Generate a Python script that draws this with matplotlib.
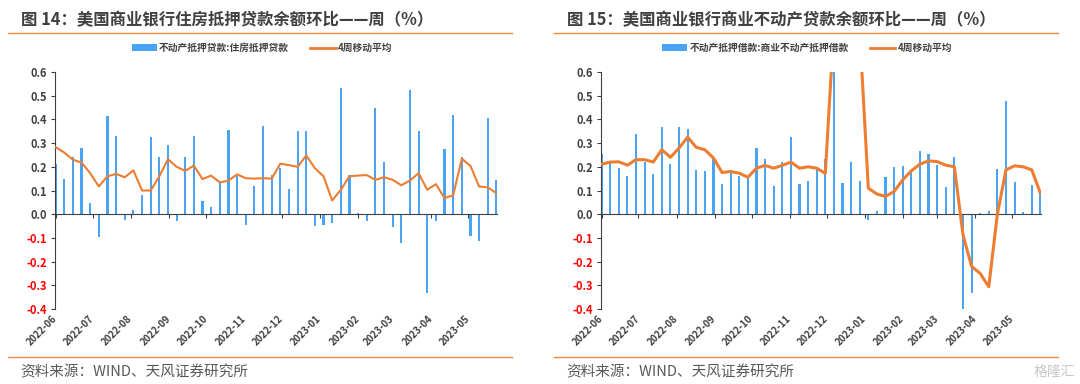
import numpy as np
import pandas as pd
import matplotlib
matplotlib.use('Agg')
import matplotlib.pyplot as plt
from matplotlib.patches import Patch
from matplotlib.lines import Line2D

plt.rcParams['font.family'] = ['Noto Sans CJK SC', 'DejaVu Sans']

# 週次データ（2022-06-01 から 52 週）
dates = pd.date_range('2022-06-01', periods=52, freq='7D')
month_ticks = pd.date_range('2022-06-01', '2023-05-01', freq='MS')
month_labels = [d.strftime('%Y-%m') for d in month_ticks]

# 図14: 住房抵押贷款 環比 (%)
resid_vals = [0.21, 0.15, 0.24, 0.28, 0.046, -0.097, 0.415, 0.33, -0.024, 0.018,
              0.08, 0.324, 0.242, 0.29, -0.03, 0.24, 0.33, 0.055, 0.032, 0.13,
              0.357, 0.16, -0.046, 0.12, 0.372, 0.165, 0.197, 0.107, 0.35, 0.352,
              -0.048, -0.045, -0.037, 0.532, 0.166, 0.005, -0.03, 0.45, 0.22, -0.055,
              -0.122, 0.522, 0.35, -0.334, -0.028, 0.275, 0.417, 0.24, -0.09, -0.113,
              0.405, 0.145]
resid_ma = [0.283, 0.26, 0.23, 0.218, 0.173, 0.117, 0.16, 0.17, 0.156, 0.185,
            0.1, 0.1, 0.16, 0.232, 0.2, 0.183, 0.205, 0.148, 0.163, 0.134,
            0.142, 0.168, 0.152, 0.15, 0.152, 0.15, 0.213, 0.207, 0.2, 0.248,
            0.194, 0.16, 0.058, 0.103, 0.16, 0.163, 0.165, 0.145, 0.156, 0.145,
            0.122, 0.142, 0.173, 0.103, 0.127, 0.068, 0.08, 0.234, 0.204, 0.117,
            0.113, 0.089]

# 図15: 商业不动产抵押借款 環比 (%)
comm_vals = [0.254, 0.215, 0.197, 0.163, 0.34, 0.222, 0.17, 0.37, 0.213, 0.37,
             0.36, 0.187, 0.183, 0.232, 0.127, 0.187, 0.163, 0.156, 0.279, 0.232,
             0.117, 0.221, 0.325, 0.128, 0.138, 0.19, 0.232, 2.6, 0.131, 0.22,
             0.142, -0.024, 0.015, 0.158, 0.2, 0.204, 0.177, 0.265, 0.255, 0.207,
             0.114, 0.24, -0.9, -0.334, 0.004, 0.012, 0.19, 0.476, 0.135, 0.008,
             0.124, 0.089]
comm_ma = [0.211, 0.22, 0.221, 0.207, 0.23, 0.23, 0.22, 0.272, 0.24, 0.279,
           0.325, 0.282, 0.272, 0.237, 0.176, 0.18, 0.173, 0.156, 0.194, 0.206,
           0.194, 0.206, 0.22, 0.194, 0.2, 0.194, 0.172, 0.79, 0.79, 0.796,
           0.77, 0.11, 0.085, 0.075, 0.096, 0.145, 0.183, 0.211, 0.225, 0.222,
           0.207, 0.2, -0.086, -0.22, -0.25, -0.306, 0.0, 0.187, 0.204, 0.2,
           0.187, 0.089]

BAR_COLOR = '#4BA3F5'
LINE_COLOR = '#ED7D31'
TEXT_COLOR = '#404040'
SEP_COLOR = '#F08C3A'

W, H = 1080, 384


def fx(px):
    return px / W


def fy(py):
    return 1 - py / H


def draw_panel(fig, left_px, right_px, vals, ma, ma_lw, title, bar_label, legend_cx):
    ax = fig.add_axes([fx(left_px), fy(309), fx(right_px - left_px), (309 - 72) / H])
    ax.bar(dates, vals, width=1.7, color=BAR_COLOR, zorder=2)
    ax.plot(dates, ma, color=LINE_COLOR, lw=ma_lw, zorder=3, solid_capstyle='round')

    ax.set_ylim(-0.4, 0.6)
    ax.set_xlim(dates[0] - pd.Timedelta(days=0.5), dates[-1] + pd.Timedelta(days=0.5))

    for s in ['top', 'right']:
        ax.spines[s].set_visible(False)
    ax.spines['left'].set_color(TEXT_COLOR)
    ax.spines['bottom'].set_color(TEXT_COLOR)
    ax.spines['bottom'].set_position(('data', 0))

    yt = np.round(np.arange(-0.4, 0.61, 0.1), 1) + 0.0
    ax.set_yticks(yt)
    ax.set_yticklabels([f'{abs(v):.1f}' if abs(v) < 1e-9 else f'{v:.1f}' for v in yt],
                       fontsize=8, fontweight='bold')
    for lab, v in zip(ax.get_yticklabels(), yt):
        lab.set_color('#FF0000' if v < -1e-9 else TEXT_COLOR)
    ax.tick_params(axis='y', length=3, color=TEXT_COLOR, pad=3)

    ax.set_xticks(month_ticks)
    ax.tick_params(axis='x', length=3, color=TEXT_COLOR, labelbottom=False)
    for d, lab in zip(month_ticks, month_labels):
        ax.text(d, -0.035, lab, transform=ax.get_xaxis_transform(), rotation=45,
                ha='right', va='center', rotation_mode='anchor', fontsize=7,
                fontweight='bold', color=TEXT_COLOR)

    # タイトルと区切り線
    fig.text(fx(left_px - 34), fy(20), title, fontsize=11.8, fontweight='bold',
             color=TEXT_COLOR, ha='left', va='center')
    fig.add_artist(Line2D([fx(left_px - 47), fx(left_px + 457)], [fy(33), fy(33)],
                          color=SEP_COLOR, lw=1))
    fig.add_artist(Line2D([fx(left_px - 47), fx(left_px + 457)], [fy(357), fy(357)],
                          color=SEP_COLOR, lw=1))
    fig.text(fx(left_px - 35), fy(372), '资料来源：WIND、天风证券研究所', fontsize=10.5,
             color='#595959', ha='left', va='center')

    handles = [Patch(facecolor=BAR_COLOR, label=bar_label),
               Line2D([0], [0], color=LINE_COLOR, lw=2, label='4周移动平均')]
    fig.legend(handles=handles, loc='center', bbox_to_anchor=(fx(legend_cx), fy(48)),
               ncol=2, frameon=False, handlelength=2.6, handleheight=0.6,
               columnspacing=2.2, handletextpad=0.2,
               prop={'size': 7, 'weight': 'bold'})
    for t in fig.legends[-1].get_texts():
        t.set_color(TEXT_COLOR)
    return ax


fig = plt.figure(figsize=(W / 100, H / 100), dpi=100)

draw_panel(fig, 55, 497, resid_vals, resid_ma, 1.5,
           '图 14：美国商业银行住房抵押贷款余额环比——周（%）',
           '不动产抵押贷款:住房抵押贷款', 262)
draw_panel(fig, 601, 1041, comm_vals, comm_ma, 2.2,
           '图 15：美国商业银行商业不动产贷款余额环比——周（%）',
           '不动产抵押借款:商业不动产抵押借款', 807)

fig.text(fx(1075), fy(372), '格隆汇', fontsize=10, color='#C8C8C8',
         ha='right', va='center')

plt.savefig('out.png', dpi=100)
plt.close()
